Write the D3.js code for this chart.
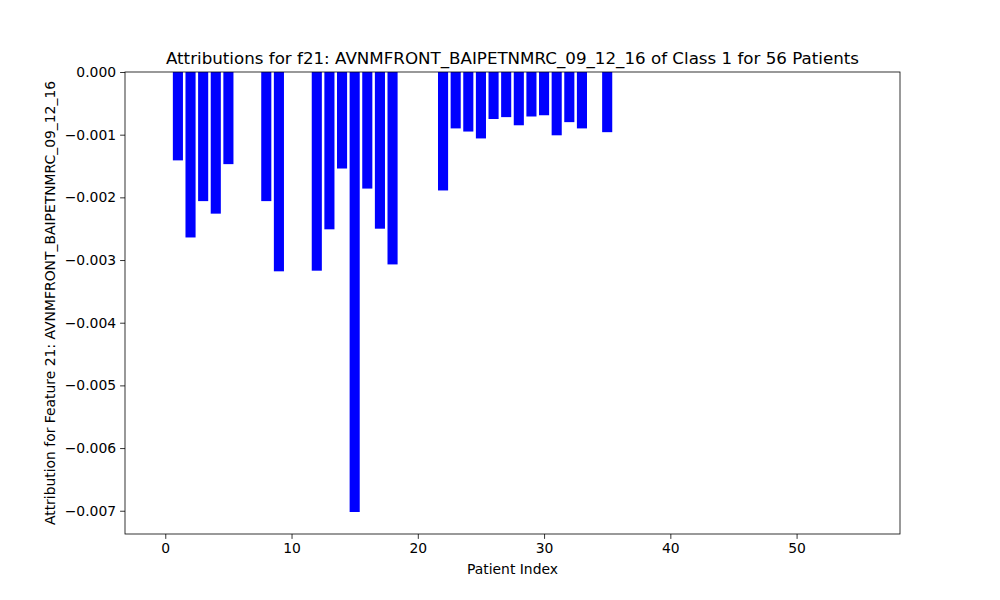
<!DOCTYPE html>
<html>
<head>
<meta charset="utf-8">
<script src="https://cdn.jsdelivr.net/npm/d3@7"></script>
<style>
    body { margin: 0; background: #fff; }
    text { font-family: "DejaVu Sans", sans-serif; }
</style>
</head>
<body>
<div id="chart"></div>
<script>
// patient indices 0..55
const patients = d3.range(56);
const attributions = [
    0, -0.00141, -0.00264, -0.00206, -0.00226, -0.00147, 0, 0,
    -0.00206, -0.00318, 0, 0, -0.00317, -0.00251, -0.00154, -0.00702,
    -0.00186, -0.00250, -0.00307, 0, 0, 0, -0.00189, -0.00090,
    -0.00095, -0.00106, -0.00075, -0.00072, -0.00085, -0.00071, -0.00069, -0.00101,
    -0.00080, -0.00090, 0, -0.00096, 0, 0, 0, 0,
    0, 0, 0, 0, 0, 0, 0, 0,
    0, 0, 0, 0, 0, 0, 0, 0
];
const xTicks = [0, 10, 20, 30, 40, 50];
const yTicks = [0, -0.001, -0.002, -0.003, -0.004, -0.005, -0.006, -0.007];

const width = 1000, height = 600,
    margin = { top: 72, right: 100, bottom: 66, left: 125 },
    w = width - margin.left - margin.right,
    h = height - margin.top - margin.bottom;

const svg = d3.select("#chart").append("svg")
    .attr("width", width).attr("height", height);

const g = svg.append("g")
    .attr("transform", "translate(" + margin.left + "," + margin.top + ")");

// matplotlib-like 5% margins on x, bars stick to zero on y
let xmin = -0.4, xmax = 55.4, pad = (xmax - xmin) * 0.05;
let x = d3.scaleLinear().domain([xmin - pad, xmax + pad]).range([0, w]);
let ymin = d3.min(attributions);
let y = d3.scaleLinear().domain([ymin * 1.05, 0]).range([h, 0]);

g.selectAll(".bar")
    .data(patients)
    .enter().append("rect")
    .attr("class", "bar")
    .attr("x", (d) => x(d - 0.4))
    .attr("width", x(0.8) - x(0))
    .attr("y", (d) => y(0))
    .attr("height", (d) => y(attributions[d]) - y(0))
    .attr("fill", "#0000ff");

let xAxis = g.append("g")
    .attr("transform", "translate(0," + h + ")")
    .call(d3.axisBottom(x).tickValues(xTicks).tickSize(4.9).tickPadding(4).tickFormat(d3.format("d")));

let yAxis = g.append("g")
    .call(d3.axisLeft(y).tickValues(yTicks).tickSize(4.9).tickPadding(4)
        .tickFormat((d) => d === 0 ? "0.000" : "\u2212" + d3.format(".3f")(-d)));

[xAxis, yAxis].forEach((a) => {
    a.select(".domain").remove();
    a.selectAll("text").attr("font-size", "13.9px").attr("fill", "#000")
        .attr("font-family", "DejaVu Sans, sans-serif");
    a.selectAll("line").attr("stroke", "#000").attr("stroke-width", 0.8);
});

// axes frame
g.append("rect")
    .attr("width", w).attr("height", h)
    .attr("fill", "none").attr("stroke", "#000").attr("stroke-width", 0.8);

svg.append("text")
    .attr("x", margin.left + w / 2).attr("y", 64)
    .attr("text-anchor", "middle").attr("font-size", "16.7px")
    .text("Attributions for f21: AVNMFRONT_BAIPETNMRC_09_12_16 of Class 1 for 56 Patients");

svg.append("text")
    .attr("x", margin.left + w / 2).attr("y", 574)
    .attr("text-anchor", "middle").attr("font-size", "13.9px")
    .text("Patient Index");

svg.append("text")
    .attr("transform", "translate(55," + (margin.top + h / 2) + ") rotate(-90)")
    .attr("text-anchor", "middle").attr("font-size", "13.9px")
    .text("Attribution for Feature 21: AVNMFRONT_BAIPETNMRC_09_12_16");
</script>
</body>
</html>
